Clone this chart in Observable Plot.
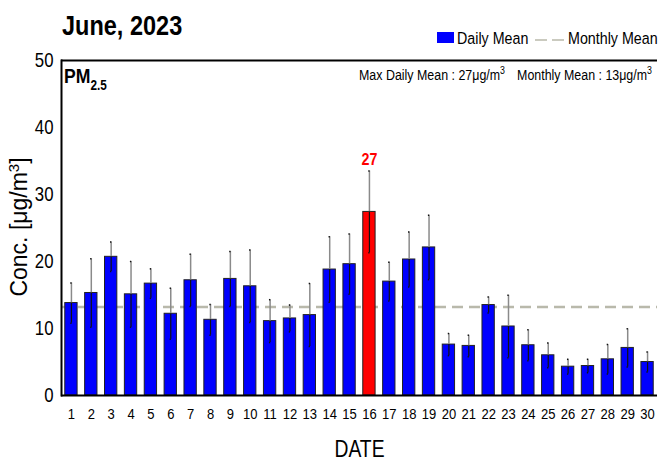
<!DOCTYPE html>
<html>
<head>
<meta charset="utf-8">
<script src="https://cdn.jsdelivr.net/npm/d3@7"></script>
<script src="https://cdn.jsdelivr.net/npm/@observablehq/plot@0.6"></script>
<style>
  html, body { margin: 0; padding: 0; background: #fff; }
  svg { display: block; }
</style>
</head>
<body>
<div id="chart"></div>
<script>
// ---- data ----
const days = d3.range(1, 31);
const dailyMean = [13.8, 15.3, 20.7, 15.1, 16.7, 12.2, 17.2, 11.3, 17.4, 16.3,
                   11.1, 11.5, 12.0, 18.8, 19.6, 27.4, 17.0, 20.3, 22.1, 7.6,
                   7.4, 13.5, 10.3, 7.5, 6.0, 4.3, 4.4, 5.4, 7.1, 5.0];
const dailySD = [3.0, 5.1, 2.2, 4.9, 2.2, 3.8, 3.9, 2.3, 4.1, 5.4,
                 3.2, 2.0, 4.7, 4.9, 4.5, 6.1, 2.9, 4.1, 4.8, 1.65,
                 1.6, 1.2, 4.65, 2.3, 1.85, 1.1, 1.0, 2.2, 2.85, 1.5];
const yTicks = [0, 10, 20, 30, 40, 50];
const monthlyMean = 13.2;
const maxMean = d3.max(dailyMean);

const data = days.map((d, i) => ({
  day: d, mean: dailyMean[i], sd: dailySD[i],
  lo: dailyMean[i] - dailySD[i], hi: dailyMean[i] + dailySD[i],
  isMax: dailyMean[i] === maxMean
}));
const maxRow = data.filter(d => d.isMax);

const SANS = "'Liberation Sans', Arial, sans-serif";

const chart = Plot.plot({
  width: 658,
  height: 463,
  marginLeft: 61,
  marginRight: 1,
  marginTop: 60,
  marginBottom: 68,
  style: { fontFamily: SANS, background: "#fff", color: "#000" },
  x: { type: "band", domain: days, paddingInner: 0.38, paddingOuter: 0.19, round: false, align: 0.5 },
  y: { domain: [0, 50] },
  marks: [
    Plot.ruleY([monthlyMean], { stroke: "#b9b9ab", strokeWidth: 2.5, strokeDasharray: "11,6" }),
    Plot.barY(data, { x: "day", y: "mean", fill: d => d.isMax ? "#ff0000" : "#0000ff",
                      stroke: "#222", strokeWidth: 1 }),
    Plot.ruleX(data, { x: "day", y1: "mean", y2: "hi", stroke: "#8a8a8a", strokeWidth: 1.5 }),
    Plot.ruleX(data, { x: "day", y1: "lo", y2: "mean", stroke: "#111", strokeWidth: 1.2 }),
    Plot.tickY(data, { x: "day", y: "hi", stroke: "#111", strokeWidth: 1.5, insetLeft: 6.8, insetRight: 6.8 }),
    Plot.tickY(data, { x: "day", y: "lo", stroke: "#111", strokeWidth: 1.5, insetLeft: 6.8, insetRight: 6.8 }),
    Plot.text(maxRow, { x: "day", y: "hi", text: d => String(Math.round(d.mean)), dy: -6,
                        lineAnchor: "bottom", fill: "#ff0000", fontWeight: "bold", fontSize: 17 }),
    Plot.axisY({ ticks: yTicks, tickSize: 0, tickPadding: 8, fontSize: 20, label: null }),
    Plot.axisX({ tickSize: 0, tickPadding: 12, fontSize: 15.5, label: null }),
    Plot.ruleY([0, 50], { stroke: "#000", strokeWidth: 2 }),
    Plot.frame({ anchor: "left", stroke: "#000", strokeWidth: 2 }),
    Plot.text(["DATE"], { frameAnchor: "bottom", dy: 61, fontSize: 23, lineAnchor: "bottom" }),
  ]
});

document.getElementById("chart").appendChild(chart);

// ---- decorations (title, legend, annotations) ----
const svg = d3.select(chart);

svg.append("text").attr("x", 62).attr("y", 35).attr("text-anchor", "start")
  .attr("font-family", SANS).attr("font-weight", "bold").attr("font-size", 28)
  .text("June, 2023");

// y label (regular width)
const yl = svg.append("text").attr("class", "nocompress")
  .attr("transform", "translate(27,227) rotate(-90)")
  .attr("text-anchor", "middle").attr("font-family", SANS).attr("font-size", 23);
yl.append("tspan").text("Conc. [μg/m");
yl.append("tspan").attr("dy", -8).attr("font-size", 15).text("3");
yl.append("tspan").attr("dy", 8).text("]");

// PM2.5
const pm = svg.append("text").attr("x", 64).attr("y", 83).attr("text-anchor", "start")
  .attr("font-family", SANS).attr("font-weight", "bold").attr("font-size", 21);
pm.append("tspan").text("PM");
pm.append("tspan").attr("dy", 7).attr("font-size", 14).text("2.5");

// stats annotation (two parts)
const st1 = svg.append("text").attr("x", 505).attr("y", 80).attr("text-anchor", "end")
  .attr("font-family", SANS).attr("font-size", 14.8);
st1.append("tspan").text(`Max Daily Mean : ${Math.round(maxMean)}μg/m`);
st1.append("tspan").attr("dy", -6).attr("font-size", 10.5).text("3");
const st2 = svg.append("text").attr("x", 652).attr("y", 80).attr("text-anchor", "end")
  .attr("font-family", SANS).attr("font-size", 14.8);
st2.append("tspan").text(`Monthly Mean : ${Math.round(d3.mean(dailyMean))}μg/m`);
st2.append("tspan").attr("dy", -6).attr("font-size", 10.5).text("3");

// legend
const lg = svg.append("g").attr("font-family", SANS).attr("font-size", 17).attr("text-anchor", "start");
lg.append("rect").attr("x", 437).attr("y", 32).attr("width", 17).attr("height", 11).attr("fill", "#0000ff");
lg.append("text").attr("x", 457).attr("y", 44).text("Daily Mean");
lg.append("line").attr("x1", 535).attr("x2", 564).attr("y1", 40).attr("y2", 40)
  .attr("stroke", "#b9b9ab").attr("stroke-width", 1.5).attr("stroke-dasharray", "12,5");
lg.append("text").attr("x", 568).attr("y", 44).text("Monthly Mean");

// emulate a narrow (condensed) face: compress each text horizontally about its anchor x
svg.selectAll("text").each(function() {
  if (this.classList.contains("nocompress")) return;
  const xs = this.x.baseVal;
  const x = xs.numberOfItems ? xs.getItem(0).value : 0;
  const t = this.getAttribute("transform") || "";
  this.setAttribute("transform",
    `${t} translate(${x},0) scale(0.84,1) translate(${-x},0)`.trim());
});
</script>
</body>
</html>
